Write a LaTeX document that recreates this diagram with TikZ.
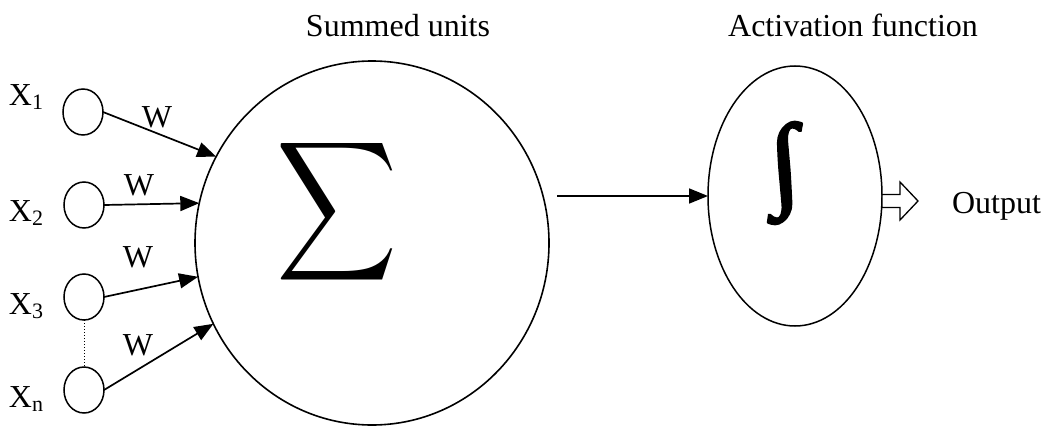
\documentclass[tikz,border=0pt]{standalone}
\usepackage{fontspec}
\setmainfont{Liberation Serif}
\newfontfamily\boldint[FakeBold=2.5]{Liberation Serif}
\usetikzlibrary{arrows.meta,shapes.geometric}

\newcommand{\subidx}[1]{\raisebox{-4pt}{\fontsize{22}{22}\selectfont #1}}

\begin{document}
\begin{tikzpicture}[x=1pt,y=-1pt,
    every node/.style={inner sep=0pt,outer sep=0pt},
    lbl/.style={font=\fontsize{32}{38}\selectfont,anchor=base},
    wlbl/.style={font=\fontsize{32}{38}\selectfont,anchor=base},
    inunit/.style={draw,ellipse,line width=1.5pt,minimum width=40pt,minimum height=46pt},
    bigunit/.style={draw,ellipse,line width=1.6pt},
    link/.style={line width=1.7pt,-{Triangle[length=19pt,width=15pt]}},
    hollow/.style={draw,fill=white,line width=1.3pt,line join=miter}]
  \useasboundingbox (0,0) rectangle (1043,428);

  % input units
  \node[inunit] (x1) at (83,112) {};
  \node[inunit] (x2) at (84,205) {};
  \node[inunit] (x3) at (84,297) {};
  \node[inunit] (xn) at (84,390) {};

  \node[lbl,anchor=base west] (lx1) at (9,105) {X\subidx{1}};
  \node[lbl,anchor=base west] (lx2) at (9,221) {X\subidx{2}};
  \node[lbl,anchor=base west] (lx3) at (9,314) {X\subidx{3}};
  \node[lbl,anchor=base west] (lxn) at (9,407) {X\subidx{n}};

  \draw[line width=1pt,dotted] (x3.south) -- (xn.north);

  % summing unit
  \node[bigunit,minimum width=354pt,minimum height=364pt] (sum) at (372,243) {};
  \node (sigma) at (337,212) {\resizebox*{121pt}{156pt}{$\displaystyle\sum$}};
  \node[lbl] (tsum) at (398,37) {Summed units};

  % weighted inputs
  \draw[link] (x1.east) -- (sum.151.3);
  \draw[link] (x2.east) -- (sum.167.5);
  \draw[link] (x3.east) -- (sum.191.1);
  \draw[link] (xn.east) -- (sum.207);

  \node[wlbl] (w1) at (157,127) {W};
  \node[wlbl] (w2) at (139,195) {W};
  \node[wlbl] (w3) at (138,267) {W};
  \node[wlbl] (w4) at (138,355) {W};

  % activation unit
  \node[bigunit,line width=1.5pt,minimum width=174pt,minimum height=260pt] (act) at (795,196) {};
  \node[xslant=-0.08] (integ) at (785,173) {\resizebox*{30pt}{102pt}{\boldint ∫}};
  \node[lbl] (tact) at (853,37) {Activation function};

  \draw[link] ([xshift=8pt]sum.east |- act.west) -- (act.west);

  % output
  \coordinate (o) at (882,201);
  \path[hollow] (o) ++(0,-6.5) -- ++(18,0) -- ++(0,-12.5) -- ++(18,19)
    -- ++(-18,19) -- ++(0,-12.5) -- ++(-18,0) -- cycle;
  \node[lbl,anchor=base west] (tout) at (952,213) {Output};
\end{tikzpicture}
\end{document}
